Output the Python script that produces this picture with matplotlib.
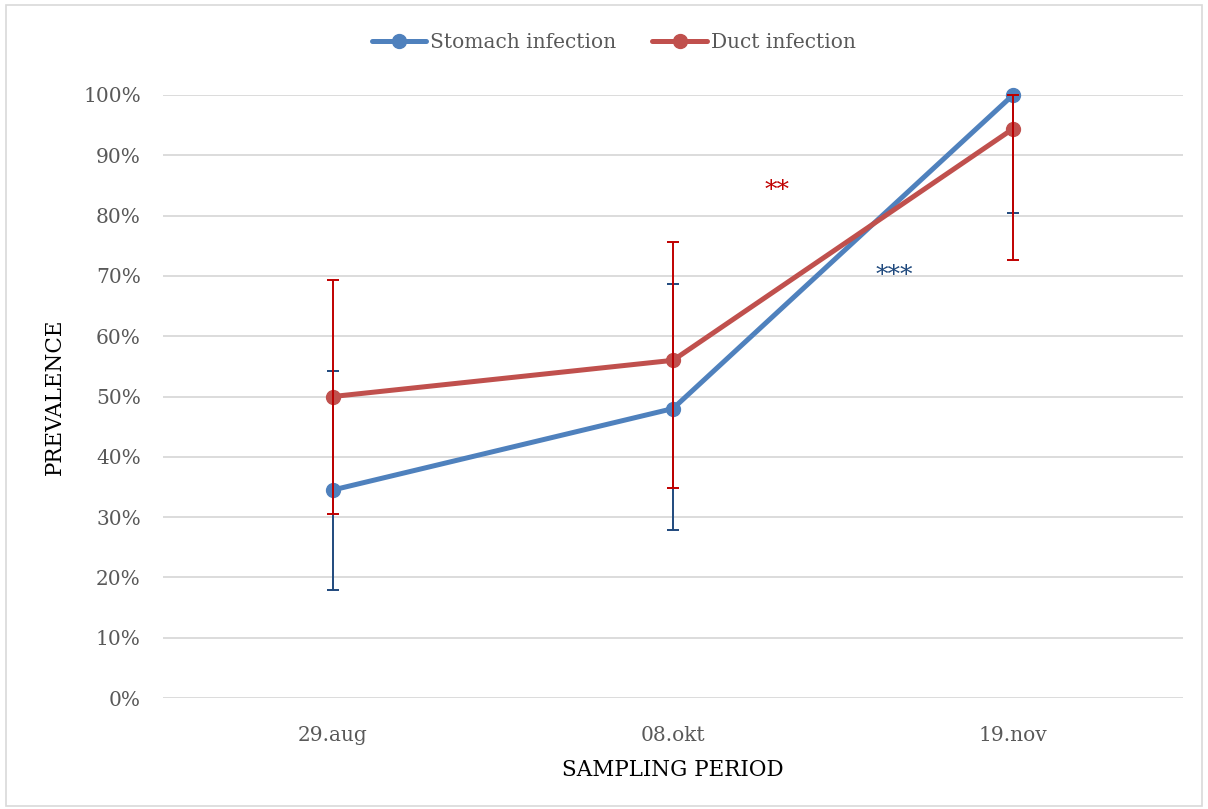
import matplotlib
matplotlib.use("Agg")
import matplotlib.pyplot as plt
from matplotlib.patches import Rectangle

# Sampling dates and prevalence (%) with confidence limits
periods = ["29.aug", "08.okt", "19.nov"]
stomach = [34.5, 48.0, 100.0]
stomach_low = [17.9, 27.9, 80.4]
stomach_high = [54.3, 68.7, 100.0]
duct = [50.0, 56.0, 94.4]
duct_low = [30.5, 34.8, 72.6]
duct_high = [69.3, 75.6, 100.0]
yticks = list(range(0, 101, 10))

blue, red = "#4F81BD", "#C0504D"
blue_err, red_err = "#1F497D", "#C00000"
plt.rcParams["font.family"] = ["DejaVu Serif"]

fig = plt.figure(figsize=(12.08, 8.09), dpi=100)
fig.patches.append(Rectangle((0.005, 0.004), 0.99, 0.99, transform=fig.transFigure,
                             fill=False, edgecolor="#D9D9D9", linewidth=1.2))
ax = fig.add_axes([163 / 1208, 1 - 698 / 809, 1020 / 1208, 603 / 809])

x = list(range(len(periods)))
ax.plot(x, stomach, color=blue, lw=3.6, marker="o", ms=10, solid_capstyle="round",
        label="Stomach infection", zorder=3, clip_on=False)
ax.plot(x, duct, color=red, lw=3.6, marker="o", ms=10, solid_capstyle="round",
        label="Duct infection", zorder=3, clip_on=False)

s_err = [[m - lo for m, lo in zip(stomach, stomach_low)],
         [hi - m for m, hi in zip(stomach, stomach_high)]]
d_err = [[m - lo for m, lo in zip(duct, duct_low)],
         [hi - m for m, hi in zip(duct, duct_high)]]
ax.errorbar(x, stomach, yerr=s_err, fmt="none", ecolor=blue_err, elinewidth=1.4,
            capsize=4.5, capthick=1.4, zorder=4, clip_on=False)
ax.errorbar(x, duct, yerr=d_err, fmt="none", ecolor=red_err, elinewidth=1.4,
            capsize=4.5, capthick=1.4, zorder=5, clip_on=False)

# significance markers
ax.text(1.306, 84.1, "**", color=red_err, fontsize=18, ha="center", va="center")
ax.text(1.65, 70.0, "***", color=blue_err, fontsize=18, ha="center", va="center")

ax.set_xlim(-0.5, 2.5)
ax.set_ylim(0, 100)
ax.set_xticks(x)
ax.set_xticklabels(periods)
ax.set_yticks(yticks)
ax.set_yticklabels([f"{t}%" for t in yticks])
ax.tick_params(length=0, labelsize=14.5, labelcolor="#595959")
ax.tick_params(axis="y", pad=16)
ax.tick_params(axis="x", pad=20)
ax.grid(axis="y", color="#D9D9D9", lw=1.3)
ax.set_axisbelow(True)
for s in ax.spines.values():
    s.set_visible(False)

ax.set_ylabel("PREVALENCE", fontsize=15.5, color="black", labelpad=12)
ax.set_xlabel("SAMPLING PERIOD", fontsize=15.5, color="black", labelpad=10)

ax.legend(loc="center", bbox_to_anchor=(0.508, 1 - 43 / 809), bbox_transform=fig.transFigure,
          ncol=2, frameon=False, fontsize=14.5, labelcolor="#595959", handlelength=2.7,
          handletextpad=0.2, columnspacing=1.8)

fig.savefig("out.png", dpi=100)
